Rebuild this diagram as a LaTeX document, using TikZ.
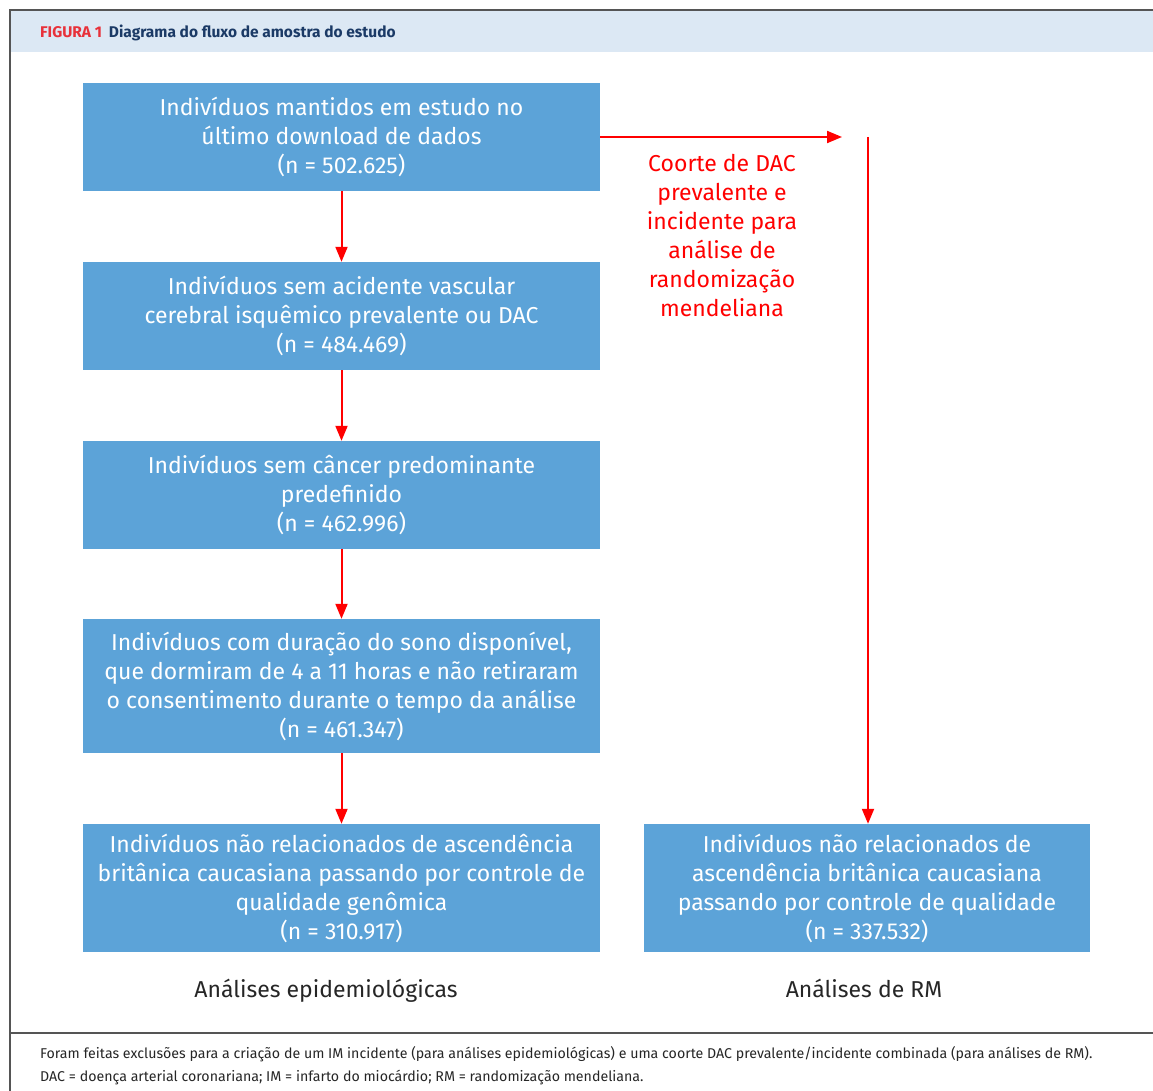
\documentclass[tikz,border=0pt]{standalone}
\usepackage{fontspec}
\setmainfont{Fira Sans}
\usetikzlibrary{arrows.meta}
\definecolor{boxblue}{HTML}{5CA3D8}
\definecolor{bandblue}{HTML}{DCE8F4}
\definecolor{titlenavy}{HTML}{1B3A66}
\definecolor{figred}{HTML}{E8313A}
\definecolor{framegray}{HTML}{555555}

\begin{document}
\begin{tikzpicture}[x=1pt, y=-1pt]
        \tikzstyle{stepbox}=[fill=boxblue, text=white, align=center, inner sep=0pt, minimum width=517pt, font=\fontsize{23}{29}\selectfont]
        \tikzstyle{redarrow}=[draw=red, line width=2pt, -{Triangle[length=15pt,width=12pt]}]
        \tikzstyle{caption}=[anchor=base, font=\fontsize{23}{29}\selectfont, text=black!85]
        \useasboundingbox (0,0) rectangle (1153,1091);
        % frame and title band
        \fill[bandblue] (11,11) rectangle (1153,52);
        \draw[framegray, line width=2pt] (1153,10) -- (10,10) -- (10,1091);
        \draw[framegray, line width=1.5pt] (10,1033) -- (1153,1033);
        \node[anchor=west, inner sep=0pt] (title) at (40,33) {\fontsize{15.5}{18}\selectfont\bfseries\textcolor{figred}{FIGURA 1}\hspace{7pt}\textcolor{titlenavy}{Diagrama do fluxo de amostra do estudo}};
        % left column
        \node[stepbox, minimum height=108pt] (kept) at (341.5,137) {Indivíduos mantidos em estudo no\\último download de dados\\(n = 502.625)};
        \node[stepbox, minimum height=108pt] (noavc) at (341.5,316) {Indivíduos sem acidente vascular\\cerebral isquêmico prevalente ou DAC\\(n = 484.469)};
        \node[stepbox, minimum height=108pt] (nocancer) at (341.5,495) {Indivíduos sem câncer predominante\\predefinido\\(n = 462.996)};
        \node[stepbox, minimum height=134pt] (sleep) at (341.5,686) {Indivíduos com duração do sono disponível,\\que dormiram de 4 a 11 horas e não retiraram\\o consentimento durante o tempo da análise\\(n = 461.347)};
        \node[stepbox, minimum height=128pt] (epi) at (341.5,888) {Indivíduos não relacionados de ascendência\\britânica caucasiana passando por controle de\\qualidade genômica\\(n = 310.917)};
        % right column
        \node[stepbox, minimum width=446pt, minimum height=128pt] (mr) at (867,888) {Indivíduos não relacionados de\\ascendência britânica caucasiana\\passando por controle de qualidade\\(n = 337.532)};
        \node[text=red, align=center, inner sep=0pt, font=\fontsize{23}{29}\selectfont] (cohort) at (722,236) {Coorte de DAC\\prevalente e\\incidente para\\análise de\\randomização\\mendeliana};
        \coordinate (turn) at (842,137);
        \coordinate (drop) at (868,137);
        % arrows
        \draw[redarrow] (kept) -- (noavc);
        \draw[redarrow] (noavc) -- (nocancer);
        \draw[redarrow] (nocancer) -- (sleep);
        \draw[redarrow] (sleep) -- (epi);
        \draw[redarrow] (kept.east) -- (turn);
        \draw[redarrow] (drop) -- (drop |- mr.north);
        % captions
        \node[caption] (epilabel) at (326,997) {Análises epidemiológicas};
        \node[caption] (mrlabel) at (864,997) {Análises de RM};
        % footnote
        \node[anchor=west, align=left, inner sep=0pt, font=\fontsize{14.2}{23}\selectfont, text=black!85] (note) at (40,1066) {Foram feitas exclusões para a criação de um IM incidente (para análises epidemiológicas) e uma coorte DAC prevalente/incidente combinada (para análises de RM).\\DAC = doença arterial coronariana; IM = infarto do miocárdio; RM = randomização mendeliana.};
    \end{tikzpicture}
\end{document}
